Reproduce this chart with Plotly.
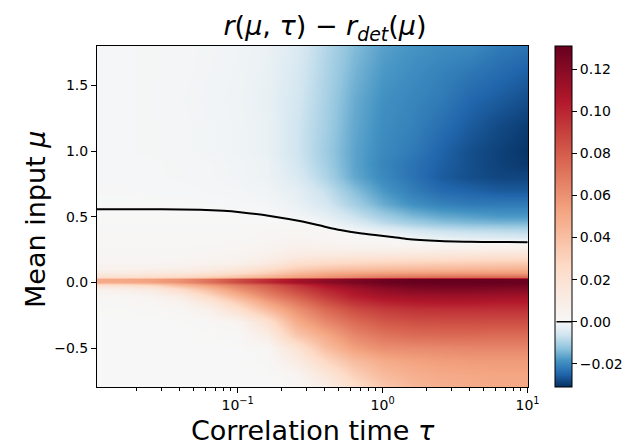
import plotly.graph_objects as go

# ---- data ----
tau = [0.01, 0.01585, 0.02512, 0.03981, 0.0631, 0.1, 0.1585, 0.2512,
       0.3981, 0.631, 1.0, 1.585, 2.512, 3.981, 6.31, 10.0]

mu_top_down = [1.8, 1.6, 1.4, 1.2, 1.0, 0.9, 0.8, 0.7, 0.6, 0.5, 0.45, 0.4, 0.35,
               0.3, 0.25, 0.2, 0.15, 0.1, 0.07, 0.045, 0.025, 0.005, -0.02, -0.05,
               -0.1, -0.15, -0.2, -0.3, -0.4, -0.5, -0.6, -0.7, -0.8]

z_top_down = [
    [-0.0004, -0.0004, -0.0005, -0.0006, -0.0008, -0.0012, -0.002, -0.0045, -0.009, -0.0135, -0.017, -0.0185, -0.0195, -0.020, -0.022, -0.023],
    [-0.0004, -0.0004, -0.0005, -0.0006, -0.0009, -0.0013, -0.0022, -0.005, -0.0095, -0.0145, -0.018, -0.0195, -0.021, -0.0225, -0.024, -0.0255],
    [-0.0004, -0.0004, -0.0005, -0.0007, -0.001, -0.0014, -0.0025, -0.0055, -0.010, -0.0155, -0.019, -0.0205, -0.022, -0.0245, -0.026, -0.0275],
    [-0.0004, -0.0004, -0.0005, -0.0006, -0.0009, -0.0013, -0.0022, -0.006, -0.0105, -0.016, -0.0195, -0.021, -0.0235, -0.026, -0.028, -0.0295],
    [-0.0004, -0.0004, -0.0005, -0.0006, -0.0009, -0.0013, -0.0022, -0.006, -0.011, -0.0165, -0.020, -0.022, -0.025, -0.0275, -0.029, -0.0305],
    [-0.0003, -0.0003, -0.0004, -0.0005, -0.0007, -0.001, -0.0018, -0.0055, -0.0105, -0.0165, -0.0205, -0.023, -0.0255, -0.0275, -0.029, -0.030],
    [-0.0003, -0.0003, -0.0004, -0.0005, -0.0007, -0.001, -0.0018, -0.0045, -0.0095, -0.016, -0.020, -0.023, -0.026, -0.0275, -0.0285, -0.0285],
    [-0.0002, -0.0002, -0.0003, -0.0003, -0.0005, -0.0007, -0.0012, -0.003, -0.007, -0.013, -0.018, -0.0215, -0.024, -0.025, -0.026, -0.026],
    [-0.0001, -0.0001, -0.0001, -0.0001, -0.0002, -0.0003, -0.0006, -0.0022, -0.0055, -0.0105, -0.0155, -0.019, -0.021, -0.022, -0.022, -0.022],
    [0.0003, 0.0003, 0.0003, 0.0003, 0.0002, 0.0001, 0.0, -0.0005, -0.0025, -0.0065, -0.0105, -0.0135, -0.0155, -0.0165, -0.0175, -0.0175],
    [0.0005, 0.0005, 0.0005, 0.0005, 0.0005, 0.0005, 0.0005, 0.0005, -0.0008, -0.004, -0.008, -0.0105, -0.0125, -0.0135, -0.014, -0.014],
    [0.0007, 0.0007, 0.0007, 0.0007, 0.0007, 0.0007, 0.0015, 0.0025, 0.0008, -0.0008, -0.003, -0.0055, -0.007, -0.008, -0.0085, -0.009],
    [0.001, 0.001, 0.001, 0.001, 0.001, 0.001, 0.002, 0.0035, 0.002, 0.001, 0.0002, -0.0015, -0.003, -0.004, -0.0045, -0.005],
    [0.0012, 0.0012, 0.0012, 0.0012, 0.0012, 0.0018, 0.003, 0.0055, 0.004, 0.003, 0.0025, 0.002, 0.0015, 0.0012, 0.001, 0.0008],
    [0.0015, 0.0015, 0.0015, 0.0015, 0.002, 0.003, 0.005, 0.0085, 0.008, 0.0078, 0.0078, 0.008, 0.0085, 0.009, 0.0095, 0.01],
    [0.002, 0.002, 0.002, 0.002, 0.003, 0.004, 0.007, 0.012, 0.014, 0.015, 0.016, 0.017, 0.018, 0.019, 0.02, 0.021],
    [0.003, 0.003, 0.003, 0.004, 0.005, 0.007, 0.012, 0.022, 0.026, 0.028, 0.030, 0.031, 0.032, 0.033, 0.034, 0.035],
    [0.006, 0.006, 0.007, 0.008, 0.011, 0.016, 0.024, 0.033, 0.038, 0.041, 0.042, 0.043, 0.044, 0.045, 0.046, 0.047],
    [0.012, 0.012, 0.013, 0.015, 0.019, 0.025, 0.033, 0.043, 0.05, 0.053, 0.055, 0.056, 0.057, 0.057, 0.057, 0.057],
    [0.022, 0.023, 0.025, 0.028, 0.033, 0.04, 0.048, 0.055, 0.06, 0.065, 0.07, 0.072, 0.074, 0.075, 0.075, 0.075],
    [0.05, 0.051, 0.054, 0.06, 0.072, 0.086, 0.097, 0.109, 0.117, 0.123, 0.128, 0.131, 0.131, 0.131, 0.130, 0.129],
    [0.05, 0.05, 0.053, 0.06, 0.072, 0.086, 0.098, 0.11, 0.118, 0.124, 0.129, 0.131, 0.131, 0.131, 0.131, 0.13],
    [0.02, 0.022, 0.028, 0.042, 0.055, 0.068, 0.08, 0.094, 0.108, 0.117, 0.124, 0.127, 0.128, 0.128, 0.127, 0.126],
    [0.006, 0.008, 0.012, 0.025, 0.042, 0.06, 0.074, 0.088, 0.1, 0.11, 0.117, 0.121, 0.122, 0.122, 0.121, 0.12],
    [0.001, 0.0015, 0.004, 0.01, 0.026, 0.046, 0.064, 0.078, 0.092, 0.103, 0.109, 0.111, 0.112, 0.112, 0.111, 0.11],
    [0.0005, 0.0008, 0.002, 0.005, 0.015, 0.033, 0.053, 0.069, 0.084, 0.095, 0.101, 0.104, 0.105, 0.105, 0.104, 0.104],
    [0.0003, 0.0004, 0.0008, 0.002, 0.007, 0.022, 0.042, 0.06, 0.075, 0.086, 0.092, 0.095, 0.096, 0.096, 0.096, 0.096],
    [0.0002, 0.0002, 0.0002, 0.0002, 0.001, 0.004, 0.02, 0.048, 0.063, 0.074, 0.081, 0.084, 0.085, 0.085, 0.085, 0.085],
    [0.0002, 0.0002, 0.0002, 0.0002, 0.0004, 0.001, 0.01, 0.036, 0.05, 0.064, 0.071, 0.074, 0.075, 0.075, 0.074, 0.074],
    [0.0002, 0.0002, 0.0002, 0.0002, 0.0002, 0.0002, 0.0015, 0.018, 0.04, 0.054, 0.061, 0.062, 0.063, 0.064, 0.064, 0.064],
    [0.0001, 0.0001, 0.0001, 0.0001, 0.0001, 0.0001, 0.0008, 0.01, 0.027, 0.041, 0.049, 0.053, 0.055, 0.056, 0.056, 0.056],
    [0.0001, 0.0001, 0.0001, 0.0001, 0.0001, 0.0001, 0.0001, 0.003, 0.015, 0.031, 0.042, 0.047, 0.05, 0.051, 0.052, 0.052],
    [0.0001, 0.0001, 0.0001, 0.0001, 0.0001, 0.0001, 0.0001, 0.001, 0.008, 0.022, 0.035, 0.043, 0.047, 0.049, 0.05, 0.05],
]

# zero-level contour
contour_tau = [0.0107, 0.02, 0.03, 0.055, 0.08, 0.104, 0.167, 0.28, 0.4, 0.51,
               0.7, 0.857, 1.2, 1.47, 2.48, 4.0, 6.0, 10.0]
contour_mu = [0.558, 0.558, 0.557, 0.554, 0.546, 0.535, 0.507, 0.464, 0.425, 0.40,
              0.375, 0.363, 0.345, 0.332, 0.317, 0.311, 0.308, 0.307]

zmin, zmax = -0.031, 0.131
contour_level = 0.0
cbar_ticks = [-0.02, 0.0, 0.02, 0.04, 0.06, 0.08, 0.10, 0.12]
cbar_labels = ["\u22120.02", "0.00", "0.02", "0.04", "0.06", "0.08", "0.10", "0.12"]
xtick_vals = [0.1, 1, 10]
xtick_text = ["10<sup>\u22121</sup>", "10<sup>0</sup>", "10<sup>1</sup>"]
xminor_vals = [0.02, 0.03, 0.04, 0.05, 0.06, 0.07, 0.08, 0.09,
               0.2, 0.3, 0.4, 0.5, 0.6, 0.7, 0.8, 0.9,
               2, 3, 4, 5, 6, 7, 8, 9]
ytick_vals = [-0.5, 0.0, 0.5, 1.0, 1.5]
ytick_text = ["\u22120.5", "0.0", "0.5", "1.0", "1.5"]

# ---- diverging colormap (RdBu_r) with centre at 0 ----
rdbu_r = ["#053061", "#2166ac", "#4393c3", "#92c5de", "#d1e5f0", "#f7f7f7",
          "#fddbc7", "#f4a582", "#d6604d", "#b2182b", "#67001f"]
f0 = (contour_level - zmin) / (zmax - zmin)
colorscale = []
for i, c in enumerate(rdbu_r):
    if i <= 5:
        p = f0 * i / 5
    else:
        p = f0 + (1 - f0) * (i - 5) / 5
    p = min(1.0, max(0.0, round(p, 6)))
    if i == len(rdbu_r) - 1:
        p = 1.0
    colorscale.append([p, c])

mu = mu_top_down[::-1]
z = z_top_down[::-1]

L, R, T, B = 97, 113, 46, 61
W, H = 641, 448
pw = W - L - R
ph = H - T - B
cb_gap, cb_thick = 27, 17

fig = go.Figure()
fig.add_trace(go.Heatmap(
    x=tau, y=mu, z=z, zmin=zmin, zmax=zmax, colorscale=colorscale,
    zsmooth="best",
    colorbar=dict(
        thickness=cb_thick, thicknessmode="pixels",
        len=1, lenmode="fraction", y=0.5, yanchor="middle", ypad=0,
        x=1 + cb_gap / pw, xanchor="left", xpad=0,
        outlinewidth=1, outlinecolor="black",
        tickvals=cbar_ticks, ticktext=cbar_labels,
        ticks="outside", ticklen=5, tickwidth=1, tickcolor="black",
        tickfont=dict(family="DejaVu Sans", size=14, color="black"),
    ),
    showscale=True,
))
fig.add_trace(go.Scatter(
    x=contour_tau, y=contour_mu, mode="lines",
    line=dict(color="black", width=2, shape="spline", smoothing=0.6),
    showlegend=False, hoverinfo="skip",
))

axis_common = dict(showline=True, linecolor="black", linewidth=1, mirror=True,
                   ticks="outside", ticklen=5, tickwidth=1, tickcolor="black",
                   showgrid=False, zeroline=False,
                   tickfont=dict(family="DejaVu Sans", size=14, color="black"))

fig.update_xaxes(type="log", range=[-1.97, 1.003],
                 tickmode="array", tickvals=xtick_vals, ticktext=xtick_text,
                 minor=dict(tickmode="array", tickvals=xminor_vals, ticks="outside",
                            ticklen=3, tickwidth=1, tickcolor="black"),
                 **axis_common)
fig.update_yaxes(range=[-0.795, 1.80], tickmode="array",
                 tickvals=ytick_vals, ticktext=ytick_text, **axis_common)

fig.update_layout(
    width=W, height=H,
    margin=dict(l=L, r=R, t=T, b=B, pad=0),
    paper_bgcolor="white", plot_bgcolor="white",
    showlegend=False,
    title=dict(
        text="<i>r</i>(<i>\u03bc</i>, <i>\u03c4</i>) \u2212 <i>r</i><sub><i>det</i></sub>(<i>\u03bc</i>)",
        x=325 / W, xanchor="center", y=1 - 26 / H, yanchor="middle",
        font=dict(family="DejaVu Sans", size=27, color="black"),
    ),
    annotations=[
        dict(text="Correlation time <i>\u03c4</i>", xref="paper", yref="paper",
             x=0.5, y=-(431 - (H - B)) / ph, xanchor="center", yanchor="middle",
             showarrow=False, font=dict(family="DejaVu Sans", size=27, color="black")),
        dict(text="Mean input <i>\u03bc</i>", xref="paper", yref="paper",
             x=(35 - L) / pw, y=(H - B - 220) / ph, xanchor="center", yanchor="middle",
             textangle=-90, showarrow=False,
             font=dict(family="DejaVu Sans", size=27, color="black")),
        # contour level marker across the colorbar
        dict(text="", xref="paper", yref="paper",
             x=1 + (cb_gap + cb_thick) / pw, y=f0,
             ax=-cb_thick, ay=0, axref="pixel", ayref="pixel",
             showarrow=True, arrowhead=0, arrowwidth=1.5, arrowcolor="black",
             standoff=0, startstandoff=0),
    ],
)

fig.write_html("out.html")
